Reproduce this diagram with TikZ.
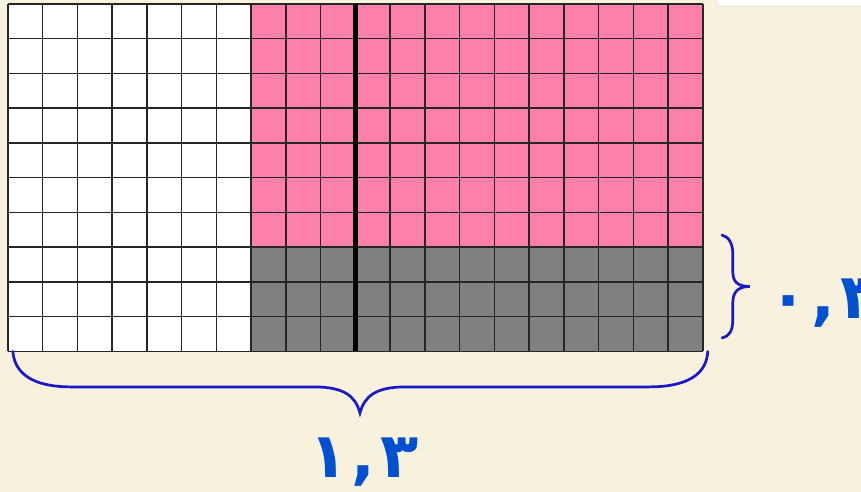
\documentclass[tikz,border=0pt]{standalone}
\usepackage{fontspec}
\newfontfamily\arabicfont[Script=Arabic]{DejaVu Sans}
\usetikzlibrary{positioning}
\definecolor{pagebg}{RGB}{247,241,222}
\definecolor{tenthpink}{RGB}{252,128,168}
\definecolor{tenthgray}{RGB}{128,128,128}
\definecolor{bracecolor}{RGB}{25,25,200}
\definecolor{digitcolor}{RGB}{0,80,210}

\begin{document}
\begin{tikzpicture}[x=0.9cm, y=0.9cm,
    gridline/.style={draw=black!85, line width=1.1pt},
    bracket/.style={draw=bracecolor, line width=2pt, line cap=round},
    digits/.style={font=\arabicfont\bfseries\fontsize{46}{46}\selectfont, text=digitcolor, inner sep=0pt, anchor=base west},
]
    \useasboundingbox (-0.23,-4.04) rectangle (24.55,10.115);
    \clip (-0.23,-4.04) rectangle (24.55,10.115);
    \fill[pagebg] (-0.23,-4.04) rectangle (24.55,10.115);
    \fill[white, draw=gray!30, rounded corners=2pt] (20.4,9.94) rectangle (25,10.5);
    % hundredths grid
    \coordinate (sw) at (0,0);
    \coordinate (se) at (20,0);
    \fill[white] (0,0) rectangle (7,10);
    \fill[tenthpink] (7,3) rectangle (20,10);
    \fill[tenthgray] (7,0) rectangle (20,3);
    \foreach \i in {0,...,20}
        \draw[gridline] (\i,0) -- (\i,10);
    \foreach \j in {0,...,10}
        \draw[gridline] (0,\j) -- (20,\j);
    \draw[line width=3.5pt] (10,0) -- (10,10);
    % braces
    \draw[bracket] (0.14,0) .. controls (0.2,-0.8) and (1.0,-1.02) .. (1.8,-1.02)
        -- (8.8,-1.02) .. controls (9.7,-1.02) and (10.0,-1.3) .. (10.13,-1.77)
        .. controls (10.26,-1.3) and (10.56,-1.02) .. (11.45,-1.02)
        -- (18.45,-1.02) .. controls (19.3,-1.02) and (20.1,-0.8) .. (20.14,0);
    \draw[bracket] (20.55,3.35) .. controls (20.75,3.3) and (20.86,3.1) .. (20.86,2.8)
        -- (20.86,2.3) .. controls (20.86,2.0) and (21.0,1.87) .. (21.35,1.87)
        .. controls (21.0,1.87) and (20.86,1.7) .. (20.86,1.4)
        -- (20.86,0.9) .. controls (20.86,0.6) and (20.75,0.42) .. (20.55,0.39);
    \node[digits] (height) at (21.9,0.96) {٠\kern3pt,\kern4pt٣};
    \node[digits, anchor=base] (width) at (10.24,-3.64) {١\kern3pt,\kern4pt٣};
\end{tikzpicture}
\end{document}
